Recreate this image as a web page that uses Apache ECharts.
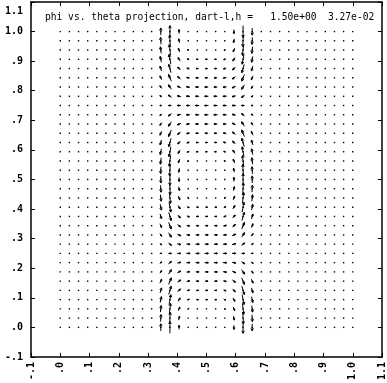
<!DOCTYPE html>
<html><head><meta charset="utf-8">
<script src="https://cdn.jsdelivr.net/npm/echarts@6/dist/echarts.min.js"></script>
<style>html,body{margin:0;background:#fff}#c{width:387px;height:383px}</style>
</head><body><div id="c"></div>
<script>
// 33 x 33 grid of sample nodes on [0,1] x [0,1]
const nodeCount = 33;
// vertical component per column (data units)
const colVert = [0,0,0,0,0,0,0,0,0,0, 0.004,0.024,0.040,0.014,0.004, 0,0,0,
  -0.004,-0.014,-0.040,-0.024,-0.004, 0,0,0,0,0,0,0,0,0,0];
// horizontal component per column
const colHoriz = [0,0,0,0,0,0,0,0,0,0, 0.002,0.007,0.011,0.013,0.013,0.013,0.013,
  0.013,0.013,0.013,0.011,0.007,0.002, 0,0,0,0,0,0,0,0,0,0];
// row weights, bottom (y=0) to top (y=1)
const rowVert = [1.00,0.98,0.92,0.83,0.71,0.56,0.38,0.20,0.00,-0.20,-0.38,-0.56,-0.71,-0.83,-0.92,-0.98,
  -1.00,-0.98,-0.92,-0.83,-0.71,-0.56,-0.38,-0.20,0.00,0.20,0.38,0.56,0.71,0.83,0.92,0.98,1.00];
const rowHoriz = [0,0.20,0.38,0.56,0.71,0.83,0.92,0.98,1.00,0.98,0.92,0.83,0.71,0.56,0.38,0.20,
  0,-0.20,-0.38,-0.56,-0.71,-0.83,-0.92,-0.98,-1.00,-0.98,-0.92,-0.83,-0.71,-0.56,-0.38,-0.20,0];
const titleText = 'phi vs. theta projection, dart-l,h =   1.50e+00  3.27e-02';

const data = [];
for (let j = 0; j < nodeCount; j++) {
  for (let i = 0; i < nodeCount; i++) {
    data.push([i / (nodeCount - 1), j / (nodeCount - 1),
      colHoriz[i] * rowHoriz[j], colVert[i] * rowVert[j]]);
  }
}

const font = 'DejaVu Sans Mono';
const fmt = v => {
  let s = (Math.round(v * 10) / 10).toFixed(1);
  return s.replace(/^(-?)0\./, '$1.');
};
// top y label sits a bit lower than its tick, as in the original
const fmtY = v => (v > 1.05 ? '{top|' + fmt(v) + '}' : fmt(v));
const axisCommon = {
  type: 'value', min: -0.1, max: 1.1, interval: 0.1,
  axisLine: { onZero: false, lineStyle: { color: '#000', width: 1.5 } },
  axisTick: { inside: true, length: 4, lineStyle: { color: '#000' } },
  splitLine: { show: false }
};

function renderItem(params, api) {
  const x = api.value(0), y = api.value(1), u = api.value(2), v = api.value(3);
  const p = api.coord([x, y]);
  const kids = [{ type: 'rect', shape: { x: p[0] - 0.7, y: p[1] - 0.7, width: 1.4, height: 1.4 },
    style: { fill: '#000' } }];
  const a = api.coord([x - u / 2, y - v / 2]);
  const b = api.coord([x + u / 2, y + v / 2]);
  const dx = b[0] - a[0], dy = b[1] - a[1];
  const len = Math.sqrt(dx * dx + dy * dy);
  if (len > 1.5) {
    const ux = dx / len, uy = dy / len;
    const h = Math.min(2.5, len * 0.4), w = h * 0.5;
    kids.push({ type: 'line', shape: { x1: a[0], y1: a[1], x2: b[0], y2: b[1] },
      style: { stroke: '#000', lineWidth: 1 } });
    kids.push({ type: 'polyline', shape: { points: [
      [b[0] - ux * h - uy * w, b[1] - uy * h + ux * w], [b[0], b[1]],
      [b[0] - ux * h + uy * w, b[1] - uy * h - ux * w]] },
      style: { stroke: '#000', fill: null, lineWidth: 1 } });
  }
  return { type: 'group', children: kids };
}

const chart = echarts.init(document.getElementById('c'));
chart.setOption({
  animation: false,
  backgroundColor: '#fff',
  title: { text: titleText, left: 40, top: 7,
    textStyle: { fontFamily: font, fontSize: 9.6, fontWeight: 'normal', color: '#000' } },
  grid: { left: 31, right: 3, top: 2, bottom: 26 },
  xAxis: [
    Object.assign({}, axisCommon, { position: 'bottom',
      axisLabel: { rotate: 90, margin: 5, formatter: fmt, showMinLabel: true, showMaxLabel: true,
        fontFamily: font, fontSize: 10, fontWeight: 'bold', color: '#000' } }),
    Object.assign({}, axisCommon, { position: 'top', axisLabel: { show: false } })
  ],
  yAxis: [
    Object.assign({}, axisCommon, { position: 'left',
      axisLabel: { margin: 8, formatter: fmtY, showMinLabel: true, showMaxLabel: true,
        fontFamily: font, fontSize: 10, fontWeight: 'bold', color: '#000',
        rich: { top: { padding: [18, 0, 0, 0], fontFamily: font, fontSize: 10,
          fontWeight: 'bold', color: '#000' } } } }),
    Object.assign({}, axisCommon, { position: 'right', axisLabel: { show: false } })
  ],
  series: [{ type: 'custom', renderItem: renderItem, data: data, clip: false,
    encode: { x: 0, y: 1 } }]
});
</script></body></html>
